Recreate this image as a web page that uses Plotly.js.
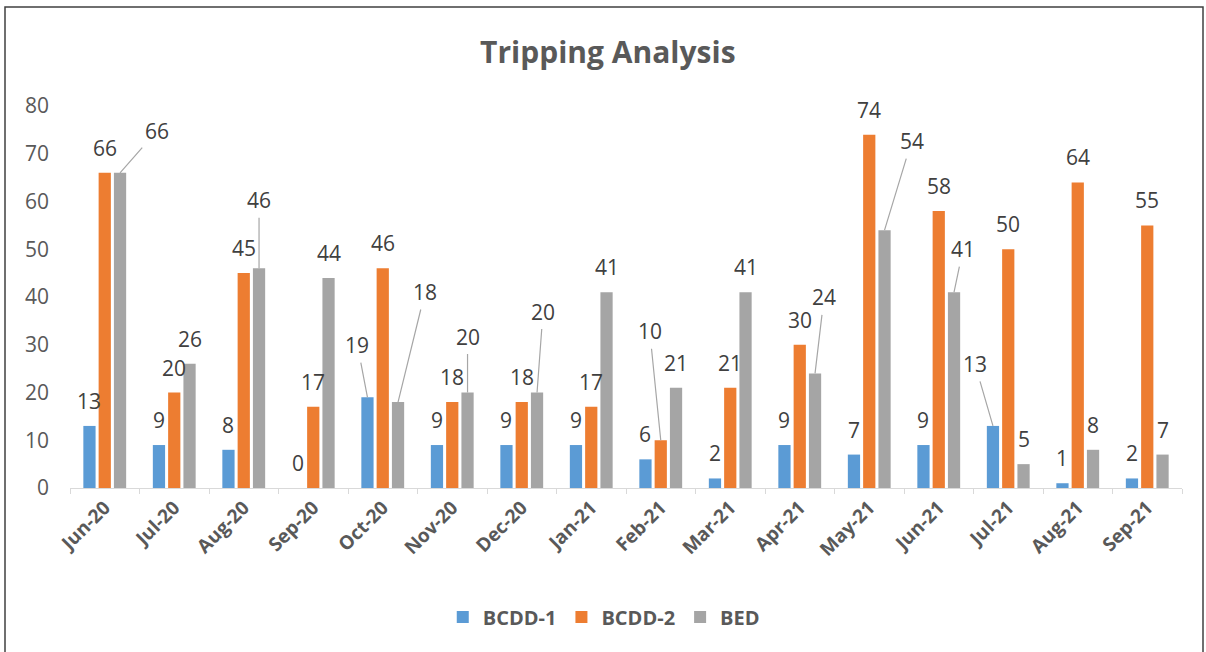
<!DOCTYPE html>
<html>
<head>
<meta charset="utf-8">
<script src="https://cdn.plot.ly/plotly-3.0.1.min.js"></script>
<style>
  html, body { margin: 0; padding: 0; background: #ffffff; }
  #chart { width: 1206px; height: 652px; }
</style>
</head>
<body>
<div id="chart"></div>
<script>
// ---- data ----
const months = ["Jun-20","Jul-20","Aug-20","Sep-20","Oct-20","Nov-20","Dec-20","Jan-21",
                "Feb-21","Mar-21","Apr-21","May-21","Jun-21","Jul-21","Aug-21","Sep-21"];
const bcdd1 = [13, 9, 8, 0, 19, 9, 9, 9, 6, 2, 9, 7, 9, 13, 1, 2];
const bcdd2 = [66, 20, 45, 17, 46, 18, 18, 17, 10, 21, 30, 74, 58, 50, 64, 55];
const bed   = [66, 26, 46, 44, 18, 20, 20, 41, 21, 41, 24, 54, 41, 5, 8, 7];
const seriesNames = ["BCDD-1", "BCDD-2", "BED"];

// ---- styling ----
const colors = ["#5B9BD5", "#ED7D31", "#A5A5A5"];
const FONT = "Open Sans, DejaVu Sans, sans-serif";
const labelColor = "#404040";
const slotOffset = [-0.22, 0, 0.22];   // position of each series inside a category group
// label leader-line offsets (pixels) for labels Excel moved away from their bars
const leaders = {
  "2:0": [37, -42], "2:2": [0, -68], "0:4": [-10, -52], "2:4": [27, -110],
  "2:5": [0, -56], "2:6": [6, -81], "1:8": [-11, -109], "2:10": [9, -76],
  "2:11": [27, -89], "2:12": [9, -43], "0:13": [-18, -62]
};

const allSeries = [bcdd1, bcdd2, bed];
const traces = allSeries.map((vals, s) => ({
  type: "bar",
  name: seriesNames[s],
  x: months,
  y: vals,
  marker: { color: colors[s], line: { width: 0 } },
  hoverinfo: "skip"
}));

const annotations = [];
allSeries.forEach((vals, s) => {
  vals.forEach((v, i) => {
    const key = s + ":" + i;
    const base = {
      x: i + slotOffset[s], y: v, xref: "x", yref: "y",
      text: String(v),
      font: { family: FONT, size: 21, color: labelColor }
    };
    if (leaders[key]) {
      annotations.push(Object.assign(base, {
        showarrow: true, arrowhead: 0, arrowwidth: 1.2, arrowcolor: "#A6A6A6",
        axref: "pixel", ayref: "pixel", ax: leaders[key][0], ay: leaders[key][1],
        standoff: 0, startstandoff: 2
      }));
    } else {
      annotations.push(Object.assign(base, { showarrow: false, yshift: 25 }));
    }
  });
});

const layout = {
  width: 1206, height: 652,
  margin: { l: 70, r: 24, t: 106, b: 164 },
  paper_bgcolor: "#ffffff", plot_bgcolor: "#ffffff",
  font: { family: FONT, color: "#595959" },
  title: {
    text: "<b>Tripping Analysis</b>",
    font: { family: FONT, size: 30, color: "#595959" },
    x: 0.504, xref: "container", xanchor: "center",
    y: 0.92, yref: "container", yanchor: "middle"
  },
  barmode: "group",
  bargap: 0.34,
  bargroupgap: 0.2,
  showlegend: true,
  legend: {
    orientation: "h", x: 0.48, xanchor: "center", y: -0.338, yanchor: "middle",
    font: { family: FONT, size: 20, color: "#595959", weight: "bold" },
    itemwidth: 30, traceorder: "normal"
  },
  xaxis: {
    type: "category",
    showgrid: false, zeroline: false,
    showline: true, linecolor: "#D9D9D9", linewidth: 1,
    ticks: "outside", ticklen: 5, tickcolor: "#D9D9D9",
    tickson: "boundaries",
    tickangle: -45,
    tickfont: { family: FONT, size: 19, color: "#595959", weight: "bold" }
  },
  yaxis: {
    range: [0, 80], dtick: 10, tick0: 0,
    showgrid: false, zeroline: false, showline: false,
    ticks: "", ticklabelstandoff: 20,
    tickfont: { family: FONT, size: 21, color: "#595959" }
  },
  annotations: annotations,
  shapes: [{
    type: "rect", xref: "paper", yref: "paper",
    x0: (5 - 70) / 1112, x1: (1203 - 70) / 1112,
    y0: (488 - 700) / 382, y1: (488 - 7) / 382,
    line: { color: "#404040", width: 1.5 }, fillcolor: "rgba(0,0,0,0)"
  }],
  hovermode: false
};

Plotly.newPlot("chart", traces, layout, { displayModeBar: false, staticPlot: true });
</script>
</body>
</html>
